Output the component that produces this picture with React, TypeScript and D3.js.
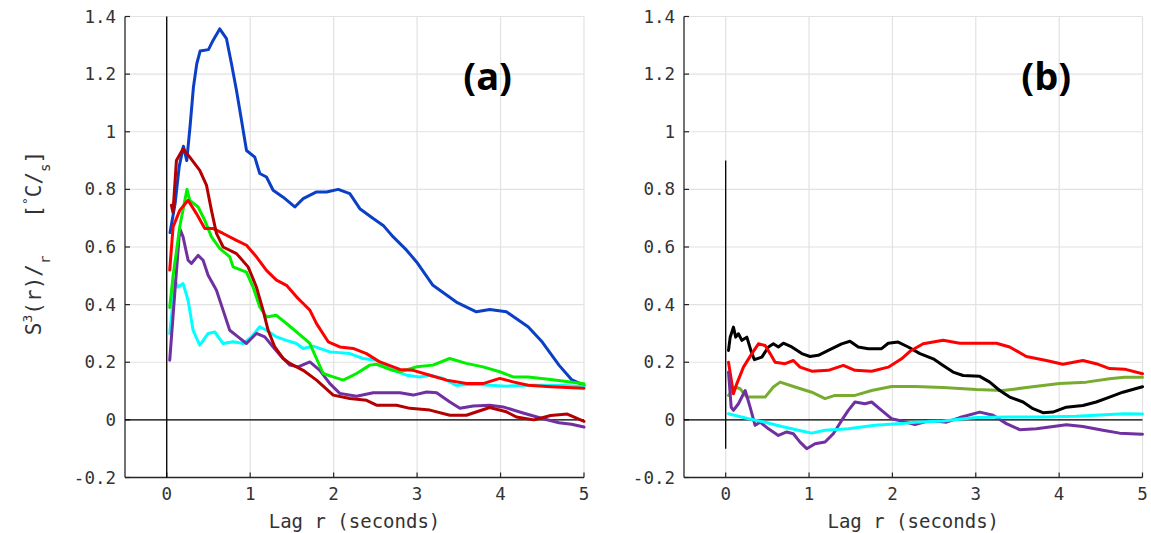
import React from "react";
import * as d3 from "d3";

type P = [number, number];

// ---------- Panel (a) series ----------
const aBlue: P[] = [[0.04,0.65],[0.1,0.75],[0.15,0.88],[0.2,0.95],[0.24,0.90],[0.28,1.02],[0.32,1.155],[0.36,1.236],[0.40,1.28],[0.50,1.285],[0.555,1.317],[0.635,1.357],[0.716,1.323],[0.776,1.236],[0.836,1.143],[0.896,1.04],[0.956,0.935],[1.055,0.912],[1.115,0.855],[1.195,0.843],[1.275,0.797],[1.395,0.773],[1.535,0.739],[1.635,0.768],[1.795,0.791],[1.915,0.791],[2.055,0.80],[2.194,0.785],[2.314,0.733],[2.474,0.699],[2.594,0.675],[2.714,0.635],[2.874,0.589],[2.994,0.548],[3.19,0.467],[3.47,0.409],[3.71,0.375],[3.87,0.383],[4.07,0.375],[4.33,0.323],[4.5,0.27],[4.7,0.19],[4.85,0.14],[5.0,0.12]];
const aDarkRed: P[] = [[0.056,0.745],[0.075,0.72],[0.116,0.9],[0.196,0.941],[0.276,0.912],[0.396,0.866],[0.476,0.815],[0.536,0.727],[0.596,0.647],[0.676,0.60],[0.836,0.577],[0.975,0.531],[1.075,0.461],[1.155,0.38],[1.215,0.311],[1.295,0.253],[1.395,0.213],[1.475,0.196],[1.635,0.172],[1.795,0.138],[1.995,0.086],[2.194,0.074],[2.394,0.068],[2.514,0.051],[2.754,0.051],[2.914,0.040],[3.153,0.034],[3.393,0.016],[3.59,0.016],[3.87,0.043],[4.07,0.028],[4.19,0.010],[4.4,0.0],[4.6,0.015],[4.8,0.02],[5.0,-0.005]];
const aRed: P[] = [[0.036,0.52],[0.076,0.67],[0.156,0.727],[0.256,0.762],[0.356,0.716],[0.456,0.664],[0.556,0.664],[0.676,0.647],[0.836,0.623],[0.956,0.606],[1.075,0.566],[1.195,0.519],[1.315,0.485],[1.435,0.467],[1.555,0.427],[1.635,0.404],[1.715,0.381],[1.795,0.334],[1.935,0.271],[2.074,0.253],[2.234,0.248],[2.394,0.230],[2.554,0.201],[2.794,0.175],[2.954,0.172],[3.153,0.155],[3.353,0.138],[3.593,0.126],[3.79,0.126],[3.99,0.144],[4.15,0.132],[4.33,0.12],[4.6,0.115],[5.0,0.11]];
const aGreen: P[] = [[0.036,0.39],[0.076,0.50],[0.156,0.67],[0.243,0.80],[0.276,0.762],[0.376,0.739],[0.456,0.693],[0.536,0.635],[0.635,0.595],[0.755,0.566],[0.795,0.531],[0.955,0.513],[1.035,0.461],[1.115,0.392],[1.195,0.357],[1.315,0.363],[1.475,0.325],[1.675,0.276],[1.715,0.265],[1.875,0.161],[1.995,0.149],[2.115,0.138],[2.275,0.161],[2.434,0.19],[2.514,0.193],[2.674,0.175],[2.794,0.167],[2.994,0.184],[3.19,0.19],[3.39,0.213],[3.59,0.196],[3.79,0.184],[3.99,0.167],[4.15,0.149],[4.33,0.149],[4.6,0.14],[5.0,0.125]];
const aPurple: P[] = [[0.036,0.207],[0.096,0.438],[0.156,0.664],[0.196,0.635],[0.256,0.554],[0.296,0.543],[0.376,0.571],[0.436,0.554],[0.496,0.502],[0.596,0.45],[0.676,0.38],[0.755,0.311],[0.855,0.288],[0.955,0.265],[1.075,0.30],[1.175,0.288],[1.275,0.253],[1.375,0.219],[1.475,0.19],[1.575,0.184],[1.715,0.201],[1.835,0.172],[1.955,0.126],[2.074,0.092],[2.275,0.082],[2.474,0.094],[2.674,0.094],[2.794,0.094],[2.954,0.086],[3.114,0.097],[3.234,0.094],[3.393,0.062],[3.513,0.04],[3.673,0.048],[3.87,0.051],[4.03,0.045],[4.27,0.024],[4.5,0.005],[4.7,-0.01],[4.85,-0.015],[5.0,-0.025]];
const aCyan: P[] = [[0.036,0.30],[0.076,0.415],[0.096,0.485],[0.136,0.461],[0.196,0.473],[0.256,0.415],[0.316,0.311],[0.396,0.259],[0.496,0.30],[0.576,0.305],[0.676,0.265],[0.796,0.271],[0.916,0.265],[1.015,0.288],[1.115,0.323],[1.195,0.311],[1.315,0.288],[1.435,0.276],[1.555,0.265],[1.635,0.248],[1.755,0.256],[1.955,0.236],[2.194,0.23],[2.354,0.213],[2.514,0.207],[2.714,0.172],[2.874,0.155],[3.03,0.149],[3.153,0.155],[3.313,0.144],[3.47,0.12],[3.67,0.124],[3.87,0.12],[4.07,0.117],[4.33,0.12],[4.7,0.12],[5.0,0.115]];

// ---------- Panel (b) series ----------
const bBlack: P[] = [[0.034,0.241],[0.054,0.287],[0.093,0.322],[0.12,0.287],[0.153,0.299],[0.194,0.276],[0.254,0.287],[0.314,0.23],[0.345,0.209],[0.434,0.218],[0.513,0.253],[0.572,0.264],[0.632,0.253],[0.692,0.266],[0.793,0.253],[0.913,0.23],[1.012,0.22],[1.111,0.224],[1.231,0.241],[1.391,0.264],[1.491,0.273],[1.590,0.253],[1.710,0.247],[1.870,0.247],[1.950,0.266],[2.069,0.27],[2.19,0.253],[2.33,0.23],[2.49,0.212],[2.608,0.189],[2.728,0.166],[2.848,0.154],[3.048,0.151],[3.168,0.131],[3.287,0.102],[3.407,0.079],[3.567,0.062],[3.686,0.039],[3.806,0.025],[3.926,0.027],[4.086,0.044],[4.285,0.05],[4.445,0.062],[4.605,0.079],[4.764,0.096],[5.0,0.115]];
const bRed: P[] = [[0.034,0.20],[0.074,0.126],[0.093,0.091],[0.134,0.126],[0.213,0.183],[0.314,0.23],[0.393,0.264],[0.473,0.258],[0.533,0.23],[0.593,0.20],[0.713,0.195],[0.812,0.206],[0.892,0.183],[1.032,0.169],[1.231,0.172],[1.411,0.189],[1.551,0.172],[1.751,0.169],[1.95,0.183],[2.11,0.212],[2.21,0.238],[2.369,0.264],[2.608,0.276],[2.808,0.266],[3.008,0.266],[3.248,0.266],[3.407,0.253],[3.607,0.22],[3.846,0.206],[4.045,0.193],[4.285,0.206],[4.445,0.195],[4.605,0.178],[4.785,0.176],[5.0,0.16]];
const bOlive: P[] = [[0.034,0.085],[0.114,0.114],[0.174,0.108],[0.254,0.079],[0.473,0.079],[0.572,0.114],[0.653,0.131],[0.832,0.114],[1.032,0.096],[1.192,0.074],[1.311,0.085],[1.551,0.085],[1.751,0.102],[1.99,0.116],[2.27,0.116],[2.608,0.112],[3.008,0.105],[3.327,0.102],[3.607,0.112],[4.006,0.126],[4.326,0.131],[4.605,0.143],[4.785,0.148],[5.0,0.148]];
const bPurple: P[] = [[0.034,0.166],[0.066,0.044],[0.093,0.033],[0.153,0.056],[0.234,0.102],[0.293,0.044],[0.353,-0.019],[0.413,-0.008],[0.513,-0.031],[0.632,-0.054],[0.733,-0.042],[0.812,-0.048],[0.892,-0.077],[0.972,-0.10],[1.072,-0.083],[1.192,-0.077],[1.291,-0.048],[1.391,-0.002],[1.471,0.033],[1.551,0.062],[1.671,0.056],[1.751,0.062],[1.87,0.033],[1.99,0.004],[2.11,-0.004],[2.27,-0.016],[2.449,-0.002],[2.649,-0.008],[2.808,0.008],[3.048,0.027],[3.208,0.016],[3.367,-0.013],[3.527,-0.034],[3.727,-0.031],[3.886,-0.025],[4.086,-0.017],[4.285,-0.023],[4.525,-0.036],[4.725,-0.046],[5.0,-0.05]];
const bCyan: P[] = [[0.034,0.021],[0.273,0.004],[0.473,-0.008],[0.673,-0.023],[0.872,-0.036],[1.032,-0.046],[1.192,-0.036],[1.471,-0.031],[1.79,-0.019],[2.11,-0.013],[2.27,-0.008],[2.608,-0.004],[3.008,0.008],[3.407,0.01],[3.806,0.01],[4.205,0.013],[4.605,0.019],[4.785,0.021],[5.0,0.02]];

const xTicks = [0, 1, 2, 3, 4, 5];
const yTicks = [-0.2, 0, 0.2, 0.4, 0.6, 0.8, 1, 1.2, 1.4];
const panelLetters = ["(a)", "(b)"];
const xLabel = "Lag r (seconds)";

type Series = { data: P[]; color: string };

const panelA: Series[] = [
  { data: aBlue, color: "#0a3fc6" },
  { data: aCyan, color: "#00ffff" },
  { data: aPurple, color: "#7030a0" },
  { data: aGreen, color: "#00f000" },
  { data: aRed, color: "#ff0000" },
  { data: aDarkRed, color: "#b40000" },
];
const panelB: Series[] = [
  { data: bOlive, color: "#77ac30" },
  { data: bBlack, color: "#000000" },
  { data: bRed, color: "#ff0000" },
  { data: bPurple, color: "#7030a0" },
  { data: bCyan, color: "#00ffff" },
];

const MONO = "'DejaVu Sans Mono', monospace";
const top = 16.5;
const bottom = 477.5;

function Panel({ x0, x1, series, letter, vLine, showYLabel }: { x0: number; x1: number; series: Series[]; letter: string; vLine: [number, number]; showYLabel: boolean }) {
  const x = d3.scaleLinear().domain([-0.5, 5]).range([x0, x1]);
  const y = d3.scaleLinear().domain([-0.2, 1.4]).range([bottom, top]);
  const line = d3.line<P>().x((d) => x(d[0])).y((d) => y(d[1]));
  const cy = 243;
  return (
    <g>
      {xTicks.map((t) => (
        <line key={"gx" + t} x1={x(t)} x2={x(t)} y1={top} y2={bottom} stroke="#e2e2e2" strokeWidth={1.2} />
      ))}
      {yTicks.map((t) => (
        <line key={"gy" + t} x1={x0} x2={x1} y1={y(t)} y2={y(t)} stroke="#e2e2e2" strokeWidth={1.2} />
      ))}
      <line x1={x0} x2={x0} y1={top} y2={bottom} stroke="#262626" strokeWidth={1.3} />
      <line x1={x0} x2={x1} y1={bottom} y2={bottom} stroke="#262626" strokeWidth={1.3} />
      {yTicks.map((t) => (
        <line key={"ty" + t} x1={x0} x2={x0 + 5} y1={y(t)} y2={y(t)} stroke="#262626" strokeWidth={1.2} />
      ))}
      {xTicks.map((t) => (
        <line key={"tx" + t} x1={x(t)} x2={x(t)} y1={bottom} y2={bottom - 5} stroke="#262626" strokeWidth={1.2} />
      ))}
      {yTicks.map((t) => (
        <text key={"ly" + t} x={x0 - 9} y={y(t)} textAnchor="end" dominantBaseline="central" fontFamily={MONO} fontSize={17.5} fill="#333">
          {d3.format("~g")(t).replace("−", "-")}
        </text>
      ))}
      {xTicks.map((t) => (
        <text key={"lx" + t} x={x(t)} y={494} textAnchor="middle" dominantBaseline="central" fontFamily={MONO} fontSize={17.5} fill="#333">
          {t}
        </text>
      ))}
      <text x={(x0 + x1) / 2} y={521} textAnchor="middle" dominantBaseline="central" fontFamily={MONO} fontSize={19} fill="#333">
        {xLabel}
      </text>
      <line x1={x0} x2={x1} y1={y(0)} y2={y(0)} stroke="#000" strokeWidth={1.3} />
      <line x1={x(0)} x2={x(0)} y1={y(vLine[0])} y2={y(vLine[1])} stroke="#000" strokeWidth={1.3} />
      {series.map((s, i) => (
        <path key={i} d={line(s.data) || ""} fill="none" stroke={s.color} strokeWidth={3} strokeLinejoin="round" strokeLinecap="round" />
      ))}
      <text x={x0 + (x1 - x0) * 0.79} y={90} textAnchor="middle" fontFamily="'Open Sans', sans-serif" fontWeight="bold" fontSize={38} fill="#000">
        {letter}
      </text>
      {showYLabel && (
        <text transform={`translate(41,${cy}) rotate(-90)`} textAnchor="middle" fontFamily={MONO} fontSize={21} fill="#333" style={{ whiteSpace: "pre" }}>
          <tspan>S</tspan>
          <tspan dy={-9} fontSize={13}>3</tspan>
          <tspan dy={9}>(r)/</tspan>
          <tspan dy={9} fontSize={14}>r</tspan>
          <tspan dy={-9}>{"   ["}</tspan>
          <tspan dy={-9} fontSize={13}>°</tspan>
          <tspan dy={9}>C/</tspan>
          <tspan dy={9} fontSize={14}>s</tspan>
          <tspan dy={-9}>]</tspan>
        </text>
      )}
    </g>
  );
}

export default function App() {
  return (
    <svg width={1151} height={533} style={{ position: "absolute", left: 0, top: 0, background: "#fff" }}>
      <rect width={1151} height={533} fill="#fff" />
      <Panel x0={125} x1={584} series={panelA} letter={panelLetters[0]} vLine={[1.4, -0.2]} showYLabel={true} />
      <Panel x0={684} x1={1142.5} series={panelB} letter={panelLetters[1]} vLine={[0.9, -0.1]} showYLabel={false} />
    </svg>
  );
}
